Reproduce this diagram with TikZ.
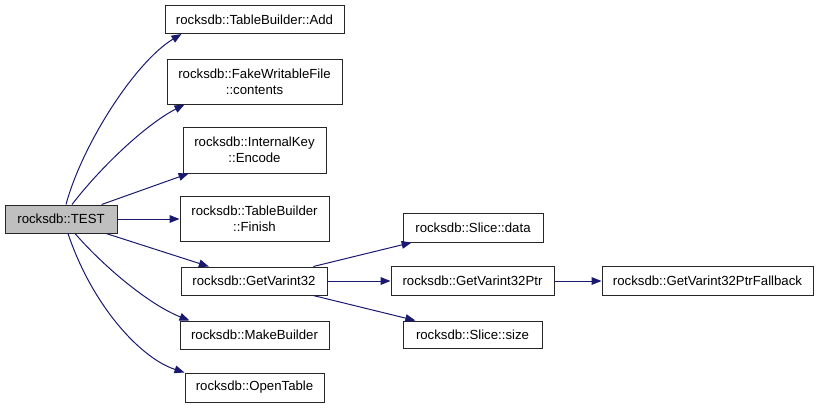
\documentclass[tikz,border=0pt]{standalone}
\usepackage{fontspec}
\setmainfont{Liberation Sans}
\usetikzlibrary{arrows.meta,calc}
\definecolor{edgeblue}{HTML}{191970}
\definecolor{boxgray}{HTML}{BFBFBF}
\tikzset{
  box/.style={draw=black!85, line width=0.75pt, inner sep=0pt, align=center,
    font=\fontsize{9.9}{12}\selectfont, minimum height=21pt},
  edge/.style={draw=edgeblue, line width=0.75pt,
    -{Triangle[length=7.5pt,width=5.8pt]}, shorten >=0pt}
}
\begin{document}
\begin{tikzpicture}[x=0.75pt,y=-0.75pt]
\useasboundingbox (0,0) rectangle (819,408);
\node[box, fill=boxgray, minimum width=84pt] (test) at (61,219) {rocksdb::TEST};
\node[box, minimum width=134.25pt] (add) at (254.5,19.5) {rocksdb::TableBuilder::Add};
\node[box, minimum width=131.25pt, minimum height=33.75pt] (contents) at (254.5,81.5) {rocksdb::FakeWritableFile\\::contents};
\node[box, minimum width=107.25pt, minimum height=34.5pt] (encode) at (254.5,150) {rocksdb::InternalKey\\::Encode};
\node[box, minimum width=111.75pt, minimum height=33.75pt] (finish) at (254.5,219) {rocksdb::TableBuilder\\::Finish};
\node[box, minimum width=109.5pt] (gv) at (254,281) {rocksdb::GetVarint32};
\node[box, minimum width=111.75pt] (make) at (254.5,335) {rocksdb::MakeBuilder};
\node[box, minimum width=104.25pt, minimum height=21.75pt] (open) at (254.5,387.5) {rocksdb::OpenTable};
\node[box, minimum width=105pt, minimum height=21.75pt] (sdata) at (473,227.5) {rocksdb::Slice::data};
\node[box, minimum width=122.25pt, minimum height=21.75pt] (gvp) at (472.5,281) {rocksdb::GetVarint32Ptr};
\node[box, minimum width=158.25pt, minimum height=21.75pt] (fb) at (707.5,281) {rocksdb::GetVarint32PtrFallback};
\node[box, minimum width=104.25pt, minimum height=20.25pt] (ssize) at (472.5,334.5) {rocksdb::Slice::size};

\draw[edge] ($(test.north)+(5,0)$) .. controls (82,145) and (135,62) .. ($(add.south west)+(17,0)$);
\draw[edge] ($(test.north)+(11,0)$) .. controls (100,168) and (145,125) .. ($(contents.south west)+(18,0)$);
\draw[edge] (test) -- (encode);
\draw[edge] (test) -- (finish);
\draw[edge] (test) -- (gv);
\draw[edge] ($(test.south)+(14,0)$) .. controls (105,268) and (150,305) .. ($(make.north west)+(10,0)$);
\draw[edge] ($(test.south)+(7,0)$) .. controls (92,305) and (140,358) .. ($(open.north west)+(0,0)$);
\draw[edge] (gv) -- (sdata);
\draw[edge] (gv) -- (gvp);
\draw[edge] (gv) -- (ssize);
\draw[edge] (gvp) -- (fb);
\end{tikzpicture}
\end{document}
